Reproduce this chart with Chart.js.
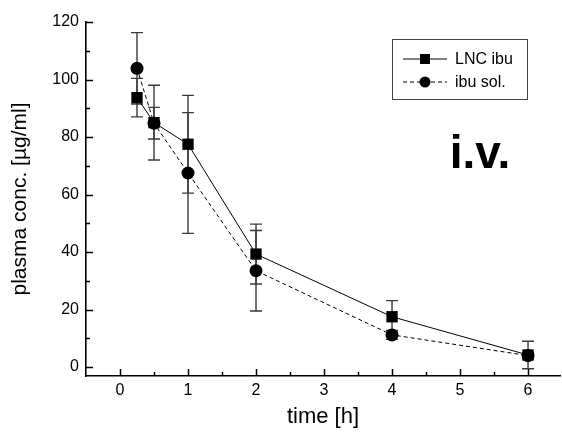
<!DOCTYPE html>
<html>
<head>
<meta charset="utf-8">
<script src="https://cdn.jsdelivr.net/npm/chart.js@4/dist/chart.umd.min.js"></script>
<style>
    html, body { margin: 0; padding: 0; background: #fff; }
    #wrap { width: 562px; height: 434px; }
</style>
</head>
<body>
<div id="wrap"><canvas id="pkChart" width="562" height="434"></canvas></div>
<script>

// time points [h]
const times = [0.25, 0.5, 1, 2, 4, 6];

// LNC ibu
const lncMean = [93.7, 85.0, 77.5, 39.3, 17.5, 4.2];
const lncSd = [6.7, 13.0, 17.0, 10.4, 5.6, 4.8];

// ibu sol.
const solMean = [103.9, 84.8, 67.5, 33.5, 11.2, 4.0];
const solSd = [12.4, 5.5, 21.0, 14.0, 1.5, 1.0];

const xTicks = [0, 1, 2, 3, 4, 5, 6];
const yTicks = [0, 20, 40, 60, 80, 100, 120];

const seriesNames = ["LNC ibu", "ibu sol."];

const toPoints = (xs, ys) => xs.map((x, i) => ({ x, y: ys[i] }));

const fontFamily = "'Liberation Sans', Arial, sans-serif";


// error bars, under the markers
const errorBars = {
    id: "errorBars",
    beforeDatasetsDraw(chart) {
        const { ctx, scales: { x, y } } = chart;
        ctx.save();
        ctx.strokeStyle = "#3a3a3a";
        ctx.lineWidth = 1.4;
        chart.data.datasets.forEach(ds => {
            ds.data.forEach((p, i) => {
                const px = x.getPixelForValue(p.x);
                const top = y.getPixelForValue(p.y + ds.sd[i]);
                const bot = y.getPixelForValue(p.y - ds.sd[i]);
                ctx.beginPath();
                ctx.moveTo(px, top); ctx.lineTo(px, bot);
                ctx.moveTo(px - 6, top); ctx.lineTo(px + 6, top);
                ctx.moveTo(px - 6, bot); ctx.lineTo(px + 6, bot);
                ctx.stroke();
            });
        });
        ctx.restore();
    }
};


// inward tick marks, major + minor
const innerTicks = {
    id: "innerTicks",
    afterDraw(chart) {
        const { ctx, chartArea: a, scales: { x, y } } = chart;
        ctx.save();
        ctx.strokeStyle = "#000";
        ctx.lineWidth = 1.5;
        ctx.beginPath();
        xTicks.forEach((v, i) => {
            const px = Math.round(x.getPixelForValue(v)) + 0.5;
            ctx.moveTo(px, a.bottom); ctx.lineTo(px, a.bottom - 7);
            if (i < xTicks.length - 1) {
                const mx = Math.round(x.getPixelForValue((v + xTicks[i + 1]) / 2)) + 0.5;
                ctx.moveTo(mx, a.bottom); ctx.lineTo(mx, a.bottom - 4);
            }
        });
        yTicks.forEach((v, i) => {
            const py = Math.round(y.getPixelForValue(v)) + 0.5;
            ctx.moveTo(a.left, py); ctx.lineTo(a.left + 7, py);
            if (i < yTicks.length - 1) {
                const my = Math.round(y.getPixelForValue((v + yTicks[i + 1]) / 2)) + 0.5;
                ctx.moveTo(a.left, my); ctx.lineTo(a.left + 4, my);
            }
        });
        ctx.stroke();
        ctx.restore();
    }
};


// boxed legend with line samples + "i.v." label
const boxLegend = {
    id: "boxLegend",
    afterDraw(chart) {
        const { ctx } = chart;
        const bx = 392, by = 39, bw = 135, bh = 60;
        ctx.save();
        ctx.strokeStyle = "#444";
        ctx.lineWidth = 1;
        ctx.strokeRect(bx + 0.5, by + 0.5, bw, bh);

        chart.data.datasets.forEach((ds, i) => {
            const ly = by + 20 + i * 23;
            ctx.strokeStyle = "#000";
            ctx.lineWidth = 1;
            ctx.setLineDash(ds.borderDash || []);
            ctx.beginPath();
            ctx.moveTo(bx + 11, ly); ctx.lineTo(bx + 55, ly);
            ctx.stroke();
            ctx.setLineDash([]);
            ctx.fillStyle = "#000";
            if (ds.pointStyle === "rect") {
                ctx.fillRect(bx + 33 - 5, ly - 5, 10, 10);
            } else {
                ctx.beginPath();
                ctx.arc(bx + 33, ly, 5.5, 0, Math.PI * 2);
                ctx.fill();
            }
            ctx.font = "16px " + fontFamily;
            ctx.textBaseline = "middle";
            ctx.textAlign = "left";
            ctx.fillText(ds.label, bx + 63, ly + 1);
        });

        ctx.font = "bold 46px " + fontFamily;
        ctx.textAlign = "center";
        ctx.textBaseline = "alphabetic";
        ctx.fillText("i.v.", 480, 168);
        ctx.restore();
    }
};


const noPad = s => {
    s.paddingLeft = 0;
    s.paddingRight = 0;
    s.paddingTop = 0;
    s.paddingBottom = 0;
};

const pkCanvas = document.querySelector("#pkChart");

new Chart(pkCanvas, {
    type: "scatter",
    data: {
        datasets: [
            {
                label: seriesNames[0],
                data: toPoints(times, lncMean),
                sd: lncSd,
                showLine: true,
                borderColor: "#000",
                borderWidth: 1,
                backgroundColor: "#000",
                pointStyle: "rect",
                pointRadius: 8,
                pointBorderWidth: 0,
                order: 2
            },
            {
                label: seriesNames[1],
                data: toPoints(times, solMean),
                sd: solSd,
                showLine: true,
                borderColor: "#000",
                borderWidth: 1,
                borderDash: [4, 3],
                backgroundColor: "#000",
                pointStyle: "circle",
                pointRadius: 6.5,
                pointBorderWidth: 0,
                order: 1
            }
        ]
    },
    options: {
        responsive: false,
        animation: false,
        layout: { autoPadding: false, padding: { top: 22, right: 2, left: 0, bottom: 0 } },
        plugins: {
            legend: { display: false },
            tooltip: { enabled: false }
        },
        scales: {
            x: {
                type: "linear",
                min: -0.5,
                max: 6.47,
                afterBuildTicks: s => { s.ticks = xTicks.map(v => ({ value: v })); },
                afterFit: s => { s.height = 58; noPad(s); },
                grid: { display: false, drawTicks: false },
                border: { display: true, color: "#000", width: 1.6 },
                ticks: {
                    color: "#000",
                    padding: 5,
                    font: { family: fontFamily, size: 16 }
                },
                title: {
                    display: true,
                    text: "time [h]",
                    color: "#000",
                    padding: { top: 0, bottom: 4 },
                    font: { family: fontFamily, size: 22 }
                }
            },
            y: {
                type: "linear",
                min: -3.1,
                max: 120,
                afterBuildTicks: s => { s.ticks = yTicks.map(v => ({ value: v })); },
                afterFit: s => { s.width = 86; noPad(s); },
                grid: { display: false, drawTicks: false },
                border: { display: true, color: "#000", width: 1.6 },
                ticks: {
                    color: "#000",
                    padding: 7,
                    font: { family: fontFamily, size: 16 }
                },
                title: {
                    display: true,
                    text: "plasma conc. [µg/ml]",
                    color: "#000",
                    padding: { top: 8, bottom: 0 },
                    font: { family: fontFamily, size: 21 }
                }
            }
        }
    },
    plugins: [errorBars, innerTicks, boxLegend]
});

</script>
</body>
</html>
